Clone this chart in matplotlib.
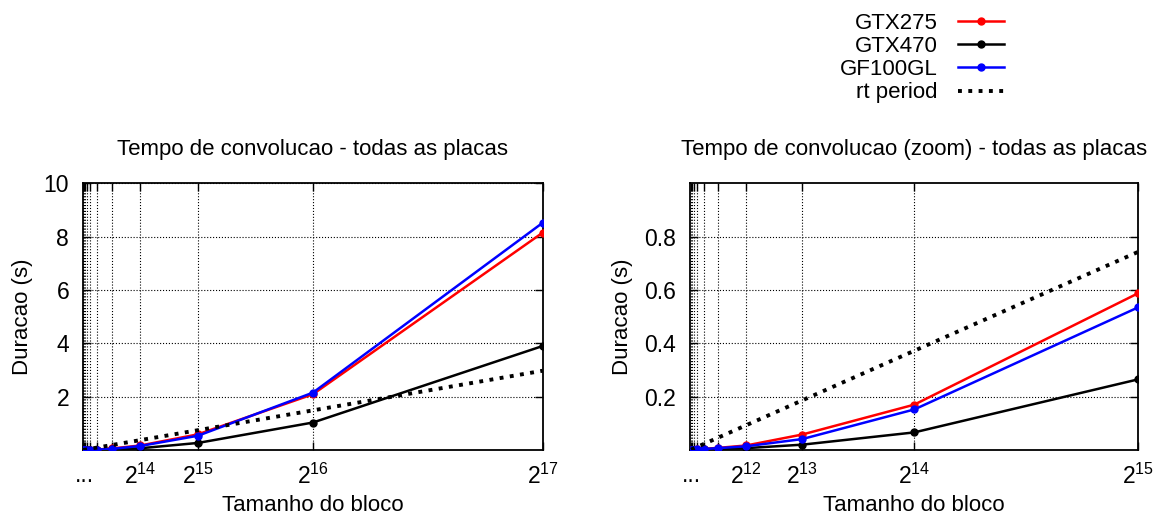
import numpy as np
import matplotlib
matplotlib.use("Agg")
import matplotlib.pyplot as plt

plt.rcParams['font.family'] = ['Liberation Sans', 'DejaVu Sans']
plt.rcParams['mathtext.default'] = 'regular'

# block sizes 2^6 .. 2^17
exponents = [6, 7, 8, 9, 10, 11, 12, 13, 14, 15, 16, 17]
block = [2 ** e for e in exponents]

gtx275 = [0.0006, 0.0009, 0.0014, 0.0025, 0.0045, 0.008, 0.017, 0.058, 0.170, 0.588, 2.09, 8.15]
gtx470 = [0.0004, 0.0006, 0.0009, 0.0014, 0.0025, 0.004, 0.007, 0.020, 0.066, 0.265, 1.03, 3.90]
gf100gl = [0.0005, 0.0008, 0.0012, 0.002, 0.0038, 0.007, 0.014, 0.041, 0.152, 0.535, 2.15, 8.52]
rt_period = [0.00145, 0.0029, 0.0058, 0.0116, 0.0232, 0.0464, 0.0929, 0.186, 0.372, 0.743, 1.486, 2.972]

labels_left = {9: "...", 14: "$2^{14}$", 15: "$2^{15}$", 16: "$2^{16}$", 17: "$2^{17}$"}
labels_right = {7: "...", 12: "$2^{12}$", 13: "$2^{13}$", 14: "$2^{14}$", 15: "$2^{15}$"}

fig = plt.figure(figsize=(11.58, 5.2), dpi=100)
ax1 = fig.add_axes([0.0717, 0.1346, 0.397, 0.513])
ax2 = fig.add_axes([0.596, 0.1346, 0.387, 0.513])


def draw(ax, xmax, ymax, yticks, ylabels, xlabels, title):
    ax.plot(block, gtx275, '-o', color='red', lw=1.8, ms=5, label='GTX275', zorder=3)
    ax.plot(block, gtx470, '-o', color='black', lw=1.8, ms=5, label='GTX470', zorder=3)
    ax.plot(block, gf100gl, '-o', color='blue', lw=1.8, ms=5, label='GF100GL', zorder=3)
    ax.plot(block, rt_period, ':', color='black', lw=2.8, label='rt period', zorder=3)
    ax.set_xlim(0, xmax)
    ax.set_ylim(0, ymax)
    xt = [2 ** e for e in exponents if 2 ** e <= xmax]
    ax.set_xticks(xt)
    ax.set_xticklabels([xlabels.get(e, "") for e in exponents if 2 ** e <= xmax])
    ax.set_yticks(yticks)
    ax.set_yticklabels(ylabels)
    ax.grid(True, linestyle=':', color='black', lw=0.8)
    ax.tick_params(direction='in', top=True, right=True, length=6, width=1,
                   labelsize=16.5)
    ax.tick_params(axis='x', pad=10)
    ax.tick_params(axis='y', pad=10)
    for s in ax.spines.values():
        s.set_linewidth(1.3)
    ax.set_title(title, fontsize=16, pad=20)
    ax.set_xlabel("Tamanho do bloco", fontsize=16, labelpad=4)
    ax.set_ylabel("Duracao (s)", fontsize=16, labelpad=8)


draw(ax1, 131072, 10, [2, 4, 6, 8, 10], ["2", "4", "6", "8", "10"], labels_left,
     "Tempo de convolucao - todas as placas")
draw(ax2, 32768, 1.0, [0.2, 0.4, 0.6, 0.8], ["0.2", "0.4", "0.6", "0.8"], labels_right,
     "Tempo de convolucao (zoom) - todas as placas")

handles, names = ax1.get_legend_handles_labels()
fig.legend(handles, names, loc='upper right', bbox_to_anchor=(0.877, 0.997),
           frameon=False, markerfirst=False, fontsize=16, handlelength=2.1,
           handletextpad=0.9, labelspacing=0.1, borderpad=0)

fig.savefig("out.png", dpi=100)
